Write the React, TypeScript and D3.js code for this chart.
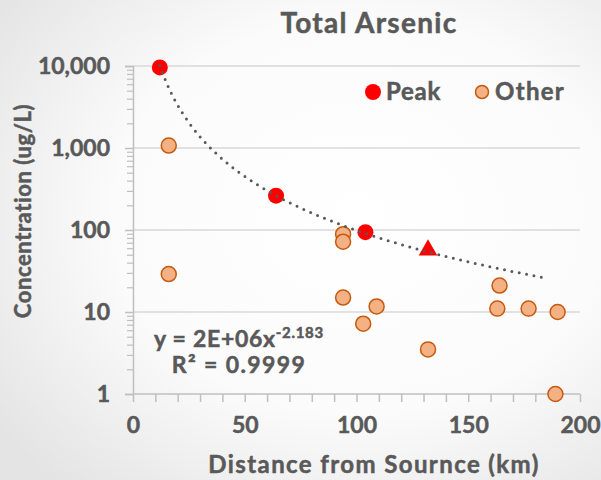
import { useEffect, useRef } from "react";
import * as d3 from "d3";

// Peak series (red circles), last point drawn as a triangle
const peakX = [12, 64, 104];
const peakY = [9600, 262, 94];
const peakTriX = [132];
const peakTriY = [57];

// Other series (orange circles)
const otherX = [16, 16, 94, 94, 94, 109, 103, 132, 164, 163, 177, 190, 189];
const otherY = [1070, 29, 89, 72, 15, 11.7, 7.2, 3.5, 21, 11, 11, 10, 1];

// power trendline y = A * x^B (Excel)
const trendA = 2.3e6;
const trendB = -2.183;
const trendRange = [12, 185];

const xTicks = [0, 50, 100, 150, 200];
const yTicks = [1, 10, 100, 1000, 10000];

const W = 601;
const H = 480;
const TEXT = "#595959";
const FONT = "Lato, 'Open Sans', sans-serif";

const ArsenicChart: React.FC = () => {
  const ref = useRef<SVGSVGElement>(null);

  useEffect(() => {
    if (!ref.current) return;
    d3.select(ref.current).selectAll("*").remove();
    const svg = d3.select(ref.current);

    const left = 133;
    const right = 580;
    const top = 66;
    const bottom = 394;

    // background gradient
    const defs = svg.append("defs");
    const grad = defs
      .append("radialGradient")
      .attr("id", "bg")
      .attr("cx", "60%")
      .attr("cy", "45%")
      .attr("r", "75%");
    grad.append("stop").attr("offset", "0%").attr("stop-color", "#ffffff");
    grad.append("stop").attr("offset", "55%").attr("stop-color", "#fbfbfb");
    grad.append("stop").attr("offset", "100%").attr("stop-color", "#e4e4e4");
    svg
      .append("rect")
      .attr("width", W)
      .attr("height", H)
      .attr("fill", "url(#bg)");

    const x = d3.scaleLinear().domain([0, 200]).range([left, right]);
    const y = d3.scaleLog().domain([1, 10000]).range([bottom, top]);

    // bold grey text, slightly thickened to look like Gill Sans Bold
    const label = (sel: any, size: number, spacing = 0) =>
      sel
        .attr("fill", TEXT)
        .attr("stroke", TEXT)
        .attr("stroke-width", 0.5)
        .style("font-family", FONT)
        .style("font-weight", "bold")
        .style("letter-spacing", spacing + "px")
        .style("font-size", size + "px");

    // gridlines
    svg
      .append("g")
      .selectAll("line")
      .data(yTicks.slice(1))
      .enter()
      .append("line")
      .attr("x1", left)
      .attr("x2", right)
      .attr("y1", (d) => y(d))
      .attr("y2", (d) => y(d))
      .attr("stroke", "#d9d9d9")
      .attr("stroke-width", 1.5);

    // minor y ticks
    const minor: number[] = [];
    yTicks.slice(0, -1).forEach((t) => {
      for (let k = 2; k < 10; k++) minor.push(t * k);
    });
    svg
      .append("g")
      .attr("transform", `translate(${left},0)`)
      .call(d3.axisLeft(y).tickValues(minor).tickSize(6).tickFormat(() => ""))
      .call((g) => g.select(".domain").remove())
      .call((g) => g.selectAll("line").attr("stroke", "#bfbfbf").attr("stroke-width", 1.2));

    // y axis
    const yAxis = svg
      .append("g")
      .attr("transform", `translate(${left},0)`)
      .call(
        d3
          .axisLeft(y)
          .tickValues(yTicks)
          .tickSize(8)
          .tickPadding(15)
          .tickFormat((d) => d3.format(",")(d as number))
      );
    yAxis.select(".domain").attr("stroke", "#bfbfbf").attr("stroke-width", 1.5);
    yAxis.selectAll("line").attr("stroke", "#bfbfbf").attr("stroke-width", 1.5);
    label(yAxis.selectAll("text"), 23);

    // x axis
    const xAxis = svg
      .append("g")
      .attr("transform", `translate(0,${bottom})`)
      .call(
        d3
          .axisBottom(x)
          .tickValues(d3.range(0, 201, 10))
          .tickSize(8)
          .tickPadding(15)
          .tickFormat((d) => (xTicks.includes(d as number) ? String(d) : ""))
      );
    xAxis
      .select(".domain")
      .attr("d", `M${left},0H${right}`)
      .attr("stroke", "#bfbfbf")
      .attr("stroke-width", 1.5);
    xAxis.selectAll("line").attr("stroke", "#bfbfbf").attr("stroke-width", 1.5);
    label(xAxis.selectAll("text"), 23);

    // other points
    svg
      .append("g")
      .selectAll("circle")
      .data(otherX.map((v, i) => [v, otherY[i]]))
      .enter()
      .append("circle")
      .attr("cx", (d) => x(d[0]))
      .attr("cy", (d) => y(d[1]))
      .attr("r", 7.5)
      .attr("fill", "#f4b183")
      .attr("stroke", "#c55a11")
      .attr("stroke-width", 1.5);

    // peak points
    svg
      .append("g")
      .selectAll("circle")
      .data(peakX.map((v, i) => [v, peakY[i]]))
      .enter()
      .append("circle")
      .attr("cx", (d) => x(d[0]))
      .attr("cy", (d) => y(d[1]))
      .attr("r", 8)
      .attr("fill", "#ff0000");

    svg
      .append("g")
      .selectAll("path")
      .data(peakTriX.map((v, i) => [v, peakTriY[i]]))
      .enter()
      .append("path")
      .attr("d", d3.symbol().type(d3.symbolTriangle).size(150))
      .attr("transform", (d) => `translate(${x(d[0])},${y(d[1])})`)
      .attr("fill", "#ff0000");

    // trendline
    const tx = d3.range(trendRange[0], trendRange[1] + 0.5, 1);
    const line = d3
      .line<number>()
      .x((d) => x(d))
      .y((d) => y(trendA * Math.pow(d, trendB)))
      .curve(d3.curveMonotoneX);
    svg
      .append("path")
      .attr("d", line(tx))
      .attr("fill", "none")
      .attr("stroke", "#595959")
      .attr("stroke-width", 3)
      .attr("stroke-linecap", "round")
      .attr("stroke-dasharray", "0 7.5");

    // equation
    const eq = label(
      svg.append("text").attr("x", 239).attr("y", 347).attr("text-anchor", "middle"),
      23,
      0.7
    );
    eq.append("tspan").text("y = 2E+06x");
    eq.append("tspan").attr("dy", -9).style("font-size", "15px").text("-2.183");
    label(
      svg.append("text").attr("x", 239).attr("y", 373).attr("text-anchor", "middle"),
      23,
      1.4
    ).text("R² = 0.9999");

    // title
    label(
      svg.append("text").attr("x", 369).attr("y", 33).attr("text-anchor", "middle"),
      28,
      1.3
    ).text("Total Arsenic");

    // axis titles
    label(
      svg.append("text").attr("x", 374).attr("y", 473).attr("text-anchor", "middle"),
      24,
      1.4
    ).text("Distance from Sournce (km)");

    label(
      svg
        .append("text")
        .attr("transform", `translate(31,211) rotate(-90)`)
        .attr("text-anchor", "middle"),
      22,
      0.6
    ).text("Concentration (ug/L)");

    // legend
    const legend = svg.append("g").attr("transform", "translate(373,92)");
    legend.append("circle").attr("r", 8).attr("fill", "#ff0000");
    label(legend.append("text").attr("x", 13).attr("y", 8), 24, 0.7).text("Peak");
    legend
      .append("circle")
      .attr("cx", 109)
      .attr("r", 6.5)
      .attr("fill", "#f4b183")
      .attr("stroke", "#c55a11")
      .attr("stroke-width", 1.5);
    label(legend.append("text").attr("x", 122).attr("y", 8), 24, 1.3).text("Other");
  }, []);

  return <svg ref={ref} width={W} height={H} style={{ display: "block" }} />;
};

export default function App() {
  return (
    <div style={{ position: "absolute", left: 0, top: 0 }}>
      <ArsenicChart />
    </div>
  );
}
